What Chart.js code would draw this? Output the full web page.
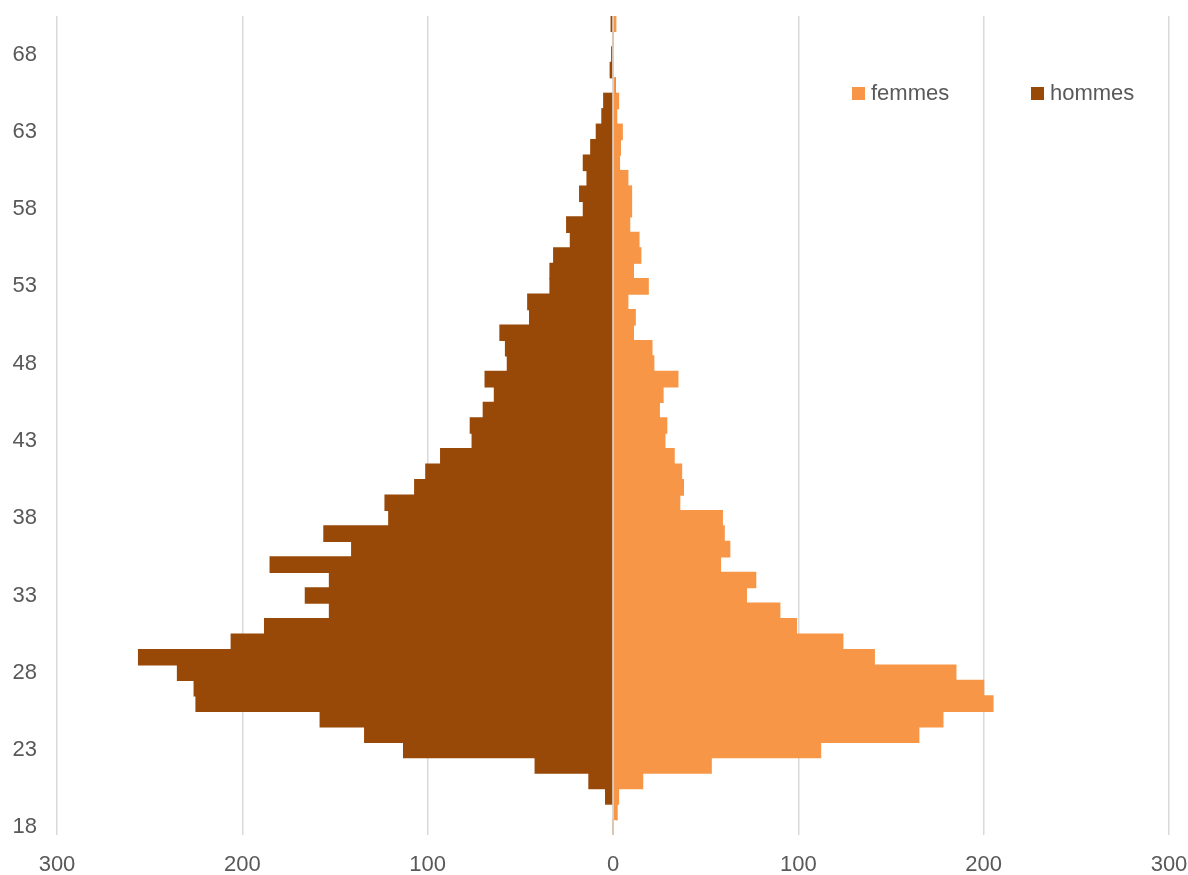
<!DOCTYPE html>
<html>
<head>
<meta charset="utf-8">
<title>Pyramide des âges</title>
<script src="https://cdn.jsdelivr.net/npm/chart.js@4.4.0/dist/chart.umd.min.js"></script>
<style>
  html, body { margin: 0; padding: 0; background: #fff; }
  #wrap { position: relative; width: 1188px; height: 875px; }
  .leg { position: absolute; font-family: "Liberation Sans", Arial, sans-serif; font-size: 22px; line-height: 22px; color: #595959; }
  .sq { position: absolute; width: 13px; height: 13px; }
</style>
</head>
<body>
<div id="wrap">
  <canvas id="chart" width="1188" height="875"></canvas>
  <div class="sq" style="left:852px; top:87px; background:#F79646;"></div>
  <div class="leg" style="left:871px; top:82px;">femmes</div>
  <div class="sq" style="left:1031px; top:87px; background:#984807;"></div>
  <div class="leg" style="left:1050px; top:82px;">hommes</div>
</div>
<script>
// ages 18 -> 70
const ages = [];
for (let a = 18; a <= 70; a++) ages.push(a);

// hommes, age 18 first
const hommes = [0, 0, 4, 13, 42, 113, 134, 158, 225, 226,
  235, 256, 206, 188, 153, 166, 153, 185, 141, 156,
  121, 123, 107, 101, 93, 76, 77, 70, 64, 69,
  57, 58, 61, 45, 46, 34, 34, 32, 23, 25,
  16, 18, 14, 16, 12, 9, 6, 5, 0, 1.5,
  0.7, 0, 1];

// femmes, age 18 first
const femmes = [0, 2, 3, 16, 53, 112, 165, 178, 205, 200,
  185, 141, 124, 99, 90, 72, 77, 58, 63, 60,
  59, 36, 38, 37, 33, 28, 29, 25, 27, 35,
  22, 21, 11, 12, 8, 19, 11, 15, 14, 9,
  10, 10, 8, 3.5, 4, 5, 2, 3, 1.2, 0,
  0, 0, 1.5];

const xTicks = [-300, -200, -100, 0, 100, 200, 300];

const fontFamily = "'Liberation Sans', Arial, sans-serif";

// light vertical line at 0, drawn over the bars
const zeroLine = {
  id: "zeroLine",
  afterDatasetsDraw(chart) {
    const ctx = chart.ctx;
    const x = chart.scales.x.getPixelForValue(0);
    const area = chart.chartArea;
    ctx.save();
    ctx.strokeStyle = "#D9D9D9";
    ctx.lineWidth = 1.5;
    ctx.beginPath();
    ctx.moveTo(x, area.top);
    ctx.lineTo(x, area.bottom);
    ctx.stroke();
    ctx.restore();
  },
};

const ctx = document.getElementById("chart").getContext("2d");
const myChart = new Chart(ctx, {
  type: "bar",
  data: {
    labels: ages,
    datasets: [
      {
        label: "femmes",
        data: femmes,
        backgroundColor: "#F79646",
        borderWidth: 0,
        inflateAmount: 0.6,
        categoryPercentage: 1,
        barPercentage: 1,
      },
      {
        label: "hommes",
        data: hommes.map((v) => -v),
        backgroundColor: "#984807",
        borderWidth: 0,
        inflateAmount: 0.6,
        categoryPercentage: 1,
        barPercentage: 1,
      },
    ],
  },
  options: {
    indexAxis: "y",
    responsive: false,
    devicePixelRatio: 1,
    animation: false,
    layout: { padding: { top: 16, left: 12.5, right: 0, bottom: 0 } },
    plugins: {
      legend: { display: false },
      tooltip: { enabled: false },
    },
    scales: {
      x: {
        stacked: true,
        min: -300,
        max: 300,
        afterBuildTicks: (axis) => {
          axis.ticks = xTicks.map((v) => ({ value: v }));
        },
        afterFit: (axis) => {
          // keep the plot wide: only room for half of the last label
          axis.paddingLeft = 0;
          axis.paddingRight = 19;
          axis.height = 40;
        },
        ticks: {
          callback: (v) => Math.abs(v),
          color: "#595959",
          padding: 19,
          font: { family: fontFamily, size: 22, lineHeight: 1 },
          maxRotation: 0,
        },
        grid: { color: "#D9D9D9", lineWidth: 1.5, drawTicks: false },
        border: { display: false },
      },
      y: {
        stacked: true,
        reverse: true,
        afterFit: (axis) => {
          axis.width = 44.5;
          axis.paddingTop = 0;
          axis.paddingBottom = 0;
        },
        ticks: {
          autoSkip: false,
          callback: function (value, index) {
            const age = ages[index];
            return (age - 18) % 5 === 0 ? String(age) : "";
          },
          color: "#595959",
          padding: 20,
          font: { family: fontFamily, size: 22 },
        },
        grid: { display: false, drawTicks: false },
        border: { display: false },
      },
    },
  },
  plugins: [zeroLine],
});
</script>
</body>
</html>
